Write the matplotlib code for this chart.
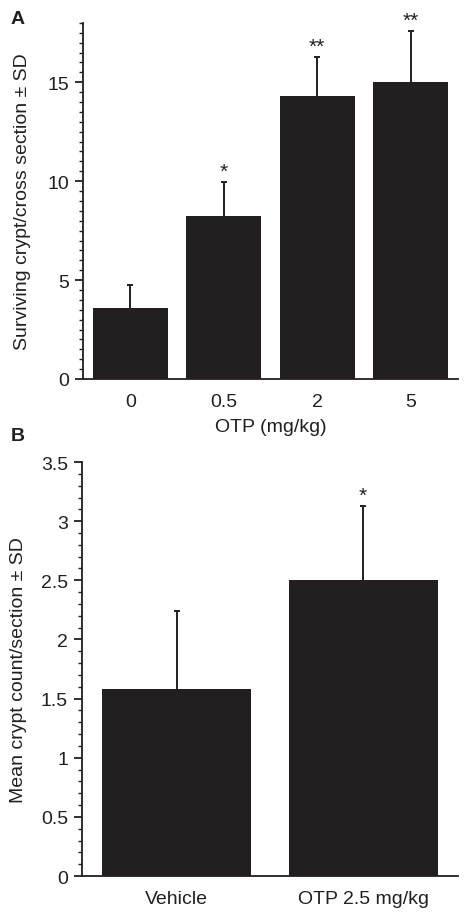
import numpy as np
import matplotlib.pyplot as plt
from matplotlib.ticker import MultipleLocator

plt.rcParams['font.family'] = ['Liberation Sans', 'DejaVu Sans']
plt.rcParams['text.color'] = '#231f20'
plt.rcParams['axes.labelcolor'] = '#231f20'
plt.rcParams['xtick.labelcolor'] = '#231f20'
plt.rcParams['ytick.labelcolor'] = '#231f20'

# Panel A data
doses = ['0', '0.5', '2', '5']
crypts = [3.6, 8.25, 14.3, 15.0]
crypts_sd = [1.15, 1.7, 2.0, 2.6]
stars_a = ['', '*', '**', '**']

# Panel B data
groups = ['Vehicle', 'OTP 2.5 mg/kg']
counts = [1.58, 2.5]
counts_sd = [0.66, 0.63]
stars_b = ['', '*']

bar_color = '#231f20'
fs = 14

fig = plt.figure(figsize=(4.68, 9.2), dpi=100)
ax1 = fig.add_axes([0.177, 0.587, 0.802, 0.387])
ax2 = fig.add_axes([0.175, 0.0467, 0.804, 0.450])


def style(ax):
    for s in ['top', 'right']:
        ax.spines[s].set_visible(False)
    for s in ['left', 'bottom']:
        ax.spines[s].set_linewidth(1.3)
        ax.spines[s].set_color(bar_color)
    ax.tick_params(axis='y', which='major', direction='out', length=6, width=1.3,
                   labelsize=fs, color=bar_color, pad=4)
    ax.tick_params(axis='y', which='minor', direction='out', length=3, width=1.0,
                   color=bar_color)
    ax.tick_params(axis='x', length=0, labelsize=fs, pad=10)


def draw(ax, labels, vals, sds, stars, star_pad):
    x = np.arange(len(labels))
    ax.bar(x, vals, width=0.8, color=bar_color, zorder=2)
    eb = ax.errorbar(x, vals, yerr=[np.zeros(len(vals)), sds], fmt='none',
                     ecolor=bar_color, elinewidth=1.4, capsize=2.5, capthick=1.4,
                     zorder=1)
    eb[1][0].set_visible(False)  # no lower cap
    for xi, v, s, st in zip(x, vals, sds, stars):
        if st:
            ax.text(xi, v + s + star_pad, st, ha='center', va='bottom', fontsize=15)
    ax.set_xticks(x)
    ax.set_xticklabels(labels)
    ax.set_xlim(-0.51, len(labels) - 0.49)


draw(ax1, doses, crypts, crypts_sd, stars_a, 0.05)
ax1.set_ylim(0, 18)
ax1.yaxis.set_major_locator(MultipleLocator(5))
ax1.yaxis.set_minor_locator(MultipleLocator(0.5))
ax1.set_ylabel('Surviving crypt/cross section ± SD', fontsize=fs, labelpad=12)
ax1.set_xlabel('OTP (mg/kg)', fontsize=fs, labelpad=6)
style(ax1)

draw(ax2, groups, counts, counts_sd, stars_b, 0.01)
ax2.set_ylim(0, 3.5)
ax2.yaxis.set_major_locator(MultipleLocator(0.5))
ax2.yaxis.set_minor_locator(MultipleLocator(0.1))
ax2.yaxis.set_major_formatter(plt.FuncFormatter(lambda v, p: f'{v:g}'))
ax2.set_ylabel('Mean crypt count/section ± SD', fontsize=fs, labelpad=10)
style(ax2)

fig.text(0.022, 0.988, 'A', fontsize=14, fontweight='bold', va='top')
fig.text(0.022, 0.535, 'B', fontsize=14, fontweight='bold', va='top')

fig.savefig('out.png', dpi=100)
